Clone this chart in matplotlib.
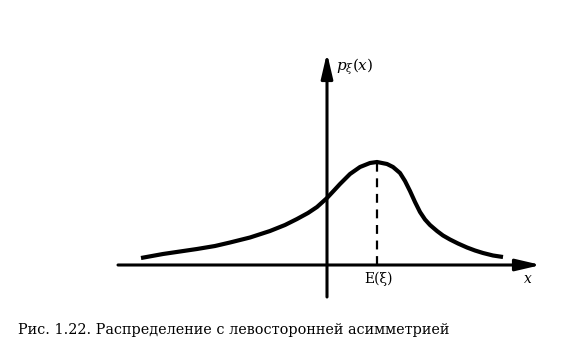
import matplotlib
matplotlib.use("Agg")
import matplotlib.pyplot as plt

# curve (units: px offset from the axis crossing)
curve_x = [-186, -164, -147, -130, -112, -97, -77, -57, -42, -30, -19, -10,
           0, 7, 13, 23, 33, 43, 50, 60, 66, 73, 78, 83, 88, 93, 98, 103,
           110, 116, 123, 131, 140, 148, 156, 166, 176]
curve_y = [7, 11, 13.5, 16, 19, 22.5, 27.5, 34, 40, 46, 52, 58,
           67, 74.5, 81, 91, 98, 102, 103, 101, 98, 92, 84, 74, 63, 53, 45.5,
           40, 34, 29.5, 25.5, 21.5, 17.5, 14.5, 12, 9.5, 8]
mode_x = 50
mode_y = 103

x_label = "x"
y_label = r"$p_{\xi}(x)$"
mode_label = "E(ξ)"
caption = "Рис. 1.22. Распределение с левосторонней асимметрией"

fig = plt.figure(figsize=(5.84, 3.6), dpi=100)
ax = fig.add_axes([0, 0, 1, 1])
ax.set_xlim(-327, 257)
ax.set_ylim(-95, 265)
ax.axis("off")

plt.rcParams["mathtext.fontset"] = "dejavuserif"

arrow = dict(arrowstyle="-|>,head_length=1.5,head_width=0.35", lw=2.2,
             color="black", shrinkA=0, shrinkB=0, mutation_scale=10)
ax.annotate("", xy=(214, 0), xytext=(-209, 0), arrowprops=arrow)
ax.annotate("", xy=(0, 212), xytext=(0, -32), arrowprops=arrow)

ax.plot(curve_x, curve_y, color="black", lw=3, solid_capstyle="butt",
        solid_joinstyle="round")
ax.plot([mode_x, mode_x], [0, mode_y], color="black", lw=1.6,
        ls=(0, (4, 3)))

ax.text(mode_x + 2, -7, mode_label, ha="center", va="top",
        fontsize=10, family="DejaVu Serif")
ax.text(201, -7, x_label, ha="center", va="top", fontsize=10,
        family="DejaVu Serif", style="italic")
ax.text(9, 198, y_label, ha="left", va="center", fontsize=11)

fig.text(18 / 584, 1 - 330 / 360, caption, ha="left", va="center",
         fontsize=10.4, family="DejaVu Serif")

fig.savefig("out.png", dpi=100)
